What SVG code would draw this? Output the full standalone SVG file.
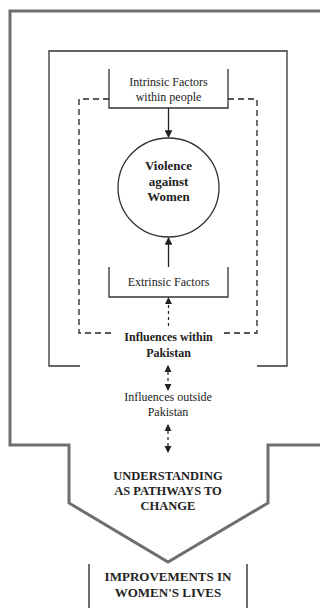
<svg xmlns="http://www.w3.org/2000/svg" width="320" height="608" viewBox="0 0 320 608">
<style>
.t{font-family:"Liberation Serif","DejaVu Serif","Times New Roman",serif;fill:#222;text-anchor:middle}
.n{font-size:12px}
.b{font-size:12px;font-weight:bold}
.v{font-size:13px;font-weight:bold}
.c{font-size:12.5px;font-weight:bold}
.ln{fill:none;stroke:#333;stroke-width:1.3}
.dash{fill:none;stroke:#222;stroke-width:1.3;stroke-dasharray:6,4}
.frame{fill:none;stroke:#6e6e6e;stroke-width:3}
.con{fill:none;stroke:#222;stroke-width:1.3}
.cond{fill:none;stroke:#222;stroke-width:1.2;stroke-dasharray:3,3}
</style>
<defs>
<marker id="ah" viewBox="0 0 8 8" refX="7" refY="4" markerWidth="6" markerHeight="6" orient="auto-start-reverse">
<path d="M0,0 L8,4 L0,8 z" fill="#222"/>
</marker>
</defs>
<g id="outer-frame">
<path class="frame" d="M322,11 L10,11 L10,445 L69,445 L69,503 L168,562 L268,503 L268,445 L322,445"/>
</g>
<g id="pakistan-frame">
<path class="ln" d="M80,366 L49,366 L49,51 L287,51 L287,366 L257,366"/>
</g>
<g id="dashed-frame">
<path class="dash" d="M109,99 L79,99 L79,333 L115,333"/>
<path class="dash" d="M228,99 L257,99 L257,333 L223,333"/>
</g>
<g id="intrinsic">
<path class="ln" d="M109,69 L109,108 L228,108 L228,69"/>
<text class="t n" x="168.5" y="86">Intrinsic Factors</text>
<text class="t n" x="168.5" y="101">within people</text>
</g>
<g id="violence">
<ellipse cx="168.5" cy="187.5" rx="50.5" ry="49.5" fill="none" stroke="#333" stroke-width="1.3"/>
<text class="t v" x="168.5" y="170">Violence</text>
<text class="t v" x="168.5" y="186">against</text>
<text class="t v" x="168.5" y="201">Women</text>
</g>
<g id="extrinsic">
<path class="ln" d="M109,267 L109,297 L228,297 L228,267"/>
<text class="t n" x="168.5" y="286">Extrinsic Factors</text>
</g>
<g id="within">
<text class="t b" x="168.5" y="341">Influences within</text>
<text class="t b" x="168.5" y="357">Pakistan</text>
</g>
<g id="outside">
<text class="t n" x="168" y="401">Influences outside</text>
<text class="t n" x="168" y="416">Pakistan</text>
</g>
<g id="understanding">
<text class="t c" x="168" y="480">UNDERSTANDING</text>
<text class="t c" x="168" y="495">AS PATHWAYS TO</text>
<text class="t c" x="168" y="510">CHANGE</text>
</g>
<g id="improvements">
<path class="frame" style="stroke-width:2" d="M89,608 L89,564 M247,564 L247,608"/>
<text class="t c" style="font-size:13px" x="168" y="581">IMPROVEMENTS IN</text>
<text class="t c" style="font-size:13px" x="168" y="597">WOMEN'S LIVES</text>
</g>
<g id="connectors">
<line class="con" x1="168.5" y1="108" x2="168.5" y2="137" marker-end="url(#ah)"/>
<line class="con" x1="168.5" y1="267" x2="168.5" y2="238" marker-end="url(#ah)"/>
<line class="cond" x1="168.5" y1="326" x2="168.5" y2="298" marker-end="url(#ah)"/>
<line class="cond" x1="168" y1="366" x2="168" y2="390" marker-start="url(#ah)" marker-end="url(#ah)"/>
<line class="cond" x1="168" y1="425" x2="168" y2="452" marker-start="url(#ah)" marker-end="url(#ah)"/>
</g>
</svg>
